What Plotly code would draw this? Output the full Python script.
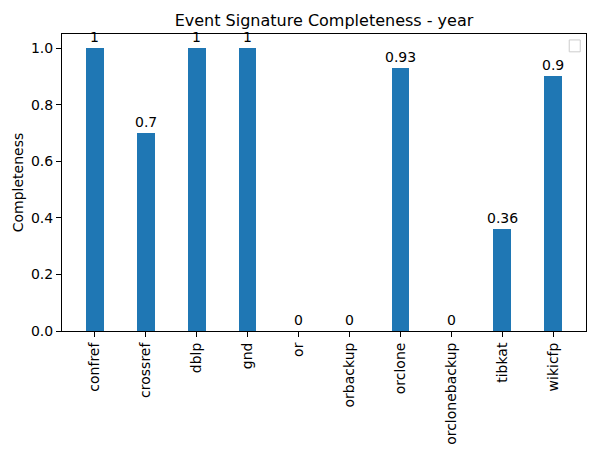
import plotly.graph_objects as go

sources = ['confref', 'crossref', 'dblp', 'gnd', 'or', 'orbackup', 'orclone',
           'orclonebackup', 'tibkat', 'wikicfp']
completeness = [1.0, 0.7, 1.0, 1.0, 0.0, 0.0, 0.93, 0.0, 0.36, 0.9]
positions = list(range(len(sources)))

fig = go.Figure()
fig.add_trace(go.Bar(x=positions, y=completeness, width=0.35,
                     marker=dict(color='#1f77b4', line=dict(width=0)),
                     showlegend=False))

# value labels above each bar
for xi, v in zip(positions, completeness):
    fig.add_annotation(x=xi, y=v, text=f'{v:g}', showarrow=False,
                       yanchor='bottom', yshift=1,
                       font=dict(size=14, color='black'))

axis_style = dict(showline=True, linecolor='black', linewidth=1, mirror=True,
                  ticks='outside', ticklen=5, tickcolor='black', showgrid=False,
                  zeroline=False, tickfont=dict(size=14, color='black'))

fig.update_xaxes(range=[-0.6425, 9.6425], tickmode='array',
                 tickvals=positions, ticktext=sources,
                 tickangle=-90, automargin=False, **axis_style)
fig.update_yaxes(range=[0, 1.05], tickvals=[0, 0.2, 0.4, 0.6, 0.8, 1.0],
                 tickformat='.1f', automargin=False,
                 title=dict(text='Completeness', font=dict(size=14, color='black'),
                            standoff=4), **axis_style)

# empty legend box (matplotlib leftover)
fig.add_shape(type='rect', xref='paper', yref='paper', x0=0.968, x1=0.989, y0=0.94, y1=0.98,
              line=dict(color='#cccccc', width=1), fillcolor='white')

# page body has an 8px margin, so the figure is 8px smaller than the window
fig.update_layout(
    width=592, height=442,
    margin=dict(l=54, r=14, t=26, b=119),
    plot_bgcolor='white', paper_bgcolor='white',
    font=dict(family='DejaVu Sans', color='black'),
    title=dict(text='Event Signature Completeness - year', x=0.5, xanchor='center',
               xref='paper', y=0.973, yanchor='middle', font=dict(size=16, color='black')),
    bargap=0,
)

fig.write_html('out.html')
